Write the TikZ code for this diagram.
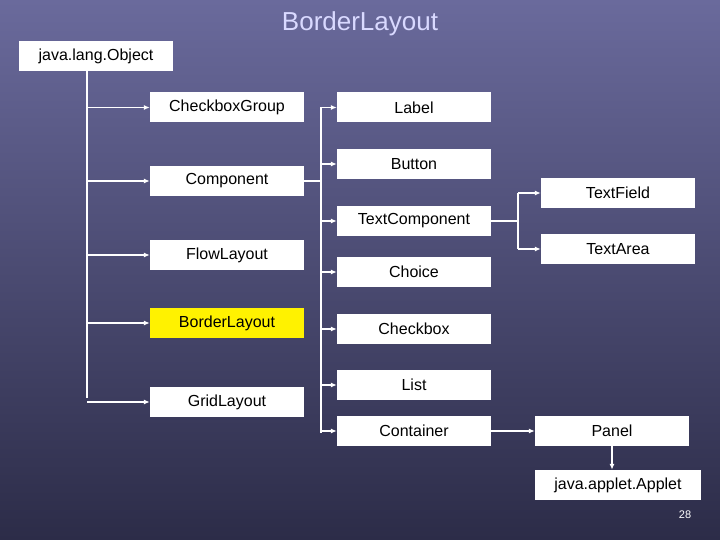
\documentclass[tikz,border=0pt]{standalone}
\usepackage{fontspec}
\setmainfont{Liberation Sans}
\usetikzlibrary{arrows.meta}

\definecolor{slatetop}{HTML}{6A6A9C}
\definecolor{slatebottom}{HTML}{2C2C48}

\tikzset{
  classbox/.style={fill=white, minimum width=154pt, minimum height=30pt, inner sep=0pt, font=\fontsize{16}{18}\selectfont},
  hilite/.style={classbox, fill=yellow},
  link/.style={white, line width=1.2pt, -{Latex[length=6pt,width=5pt]}},
  trunk/.style={white, line width=1.2pt}
}

\begin{document}
\begin{tikzpicture}[x=1pt,y=-1pt]
	\useasboundingbox (0,0) rectangle (720,540);
	\shade[shading angle=45, top color=slatetop, bottom color=slatebottom] (0,0) rectangle (720,540);

	\node[font=\fontsize{26}{30}\selectfont, text=white!85!blue] (title) at (360,24) {BorderLayout};

	\node[classbox] (object) at (96,56.5) {java.lang.Object};

	% left column
	\node[classbox] (cbgroup)   at (227,107.5) {CheckboxGroup};
	\node[classbox] (component) at (227,181)   {Component};
	\node[classbox] (flow)      at (227,255)   {FlowLayout};
	\node[hilite]   (border)    at (227,323)   {BorderLayout};
	\node[classbox] (grid)      at (227,402)   {GridLayout};

	% middle column
	\node[classbox] (label)     at (414,107.5) {Label};
	\node[classbox] (button)    at (414,164)   {Button};
	\node[classbox] (textcomp)  at (414,221)   {TextComponent};
	\node[classbox] (choice)    at (414,272)   {Choice};
	\node[classbox] (checkbox)  at (414,329)   {Checkbox};
	\node[classbox] (list)      at (414,385)   {List};
	\node[classbox] (container) at (414,431)   {Container};

	% right column
	\node[classbox] (textfield) at (618,193)   {TextField};
	\node[classbox] (textarea)  at (618,249)   {TextArea};
	\node[classbox] (panel)     at (612,431)   {Panel};
	\node[classbox, minimum width=166pt] (applet) at (618,485) {java.applet.Applet};

	\node[font=\fontsize{11}{12}\selectfont, text=white] (page) at (685,515) {28};

	% tree from java.lang.Object
	\coordinate (objtop) at (87,71);
	\coordinate (objend) at (87,398);
	\draw[trunk] (objtop) -- (objend);
	\foreach \n in {cbgroup,component,flow,border,grid}
		\draw[link] (objtop |- \n.west) -- (\n.west);

	% tree from Component
	\coordinate (comptop) at (321,107.5);
	\coordinate (compend) at (321,433);
	\draw[trunk] (component.east) -- (comptop |- component.east);
	\draw[trunk] (comptop) -- (compend);
	\foreach \n in {label,button,textcomp,choice,checkbox,list,container}
		\draw[link] (comptop |- \n.west) -- (\n.west);

	% tree from TextComponent
	\coordinate (tctop) at (518,193);
	\draw[trunk] (textcomp.east) -- (tctop |- textcomp.east);
	\draw[trunk] (tctop) -- (tctop |- textarea.west);
	\draw[link] (tctop) -- (textfield.west);
	\draw[link] (tctop |- textarea.west) -- (textarea.west);

	\draw[link] (container.east) -- (panel.west);
	\draw[link] (panel.south) -- (panel.south |- applet.north);
\end{tikzpicture}
\end{document}
